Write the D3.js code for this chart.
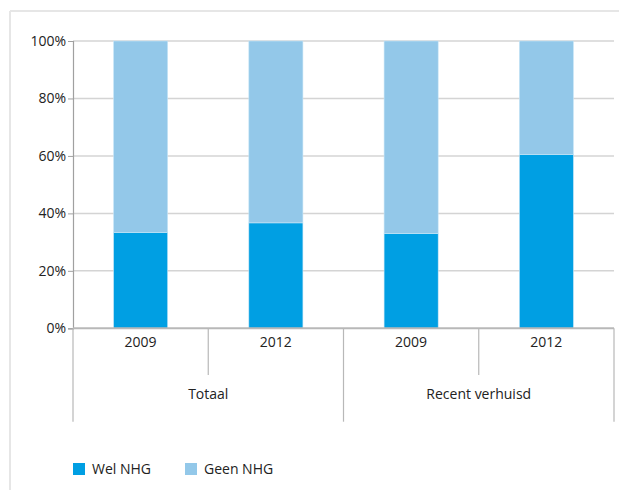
<!DOCTYPE html>
<html>
<head>
<meta charset="utf-8">
<script src="https://cdn.jsdelivr.net/npm/d3@7"></script>
<style>
  html, body { margin: 0; padding: 0; background: #fff; }
  svg { display: block; font-family: "Open Sans", "Noto Sans", sans-serif; }
</style>
</head>
<body>
<svg id="chart" width="619" height="490"></svg>
<script>
// ---- data ----
const groups = ["Totaal", "Recent verhuisd"];
const years = ["2009", "2012"];
const seriesNames = ["Wel NHG", "Geen NHG"];
const welNHG = [33.4, 36.7, 33.0, 60.5];
const geenNHG = [66.6, 63.3, 67.0, 39.5];
const yTicks = [0, 20, 40, 60, 80, 100];
const colors = ["#009fe3", "#93c8e9"];

// ---- build rows ----
const rows = [];
groups.forEach((g, gi) => years.forEach((yr, yi) => {
  const i = gi * years.length + yi;
  rows.push({ key: g + "|" + yr, group: g, year: yr, wel: welNHG[i], geen: geenNHG[i] });
}));

const svg = d3.select("#chart");
const mLeft = 73, mRight = 614, mTop = 41, mBottom = 328.3;

// frame
svg.append("line").attr("x1", 10).attr("x2", 619).attr("y1", 11).attr("y2", 11)
  .attr("stroke", "#e6e6e6").attr("stroke-width", 2);
svg.append("line").attr("x1", 10).attr("x2", 10).attr("y1", 11).attr("y2", 490)
  .attr("stroke", "#e6e6e6").attr("stroke-width", 2);

const x = d3.scaleBand().domain(rows.map(d => d.key)).range([mLeft, mRight]).padding(0);
const xg = d3.scaleBand().domain(groups).range([mLeft, mRight]).padding(0);
const y = d3.scaleLinear().domain([0, 100]).range([mBottom, mTop]);
const barW = x.bandwidth() * 0.4;

// gridlines
svg.append("g").selectAll("line").data(yTicks.filter(t => t > 0)).join("line")
  .attr("x1", mLeft).attr("x2", mRight)
  .attr("y1", d => y(d)).attr("y2", d => y(d))
  .attr("stroke", "#d4d4d4").attr("stroke-width", 1.5);

// y axis
const yAxis = svg.append("g").attr("transform", `translate(${mLeft},0)`)
  .call(d3.axisLeft(y).tickValues(yTicks).tickFormat(d => d + "%").tickSize(5).tickPadding(2));
yAxis.select(".domain").attr("stroke", "#a0a0a0").attr("stroke-width", 1.2);
yAxis.selectAll(".tick line").attr("stroke", "#a0a0a0");
yAxis.selectAll(".tick text").attr("fill", "#222").style("font-size", "14px")
  .style("font-family", "'Open Sans', sans-serif");

// bars
const stack = d3.stack().keys(["wel", "geen"]);
const stacked = stack(rows);
svg.append("g").selectAll("g").data(stacked).join("g")
  .attr("fill", (d, i) => colors[i])
  .selectAll("rect").data(d => d).join("rect")
  .attr("x", d => x(d.data.key) + (x.bandwidth() - barW) / 2)
  .attr("width", barW)
  .attr("y", d => y(d[1]))
  .attr("height", d => y(d[0]) - y(d[1]))
  .attr("stroke", "#c9e6f7").attr("stroke-width", 0.6);

// x baseline
svg.append("line").attr("x1", mLeft).attr("x2", mRight).attr("y1", mBottom).attr("y2", mBottom)
  .attr("stroke", "#b8b8b8").attr("stroke-width", 2);

// x separators: short between years, long between groups
const sepColor = "#b8b8b8";
rows.forEach((d, i) => {
  const xr = x(d.key) + x.bandwidth();
  const isGroupEnd = (i % years.length) === years.length - 1;
  if (!isGroupEnd) {
    svg.append("line").attr("x1", xr).attr("x2", xr).attr("y1", mBottom).attr("y2", 375)
      .attr("stroke", sepColor).attr("stroke-width", 1.2);
  }
});
[mLeft].concat(groups.map(g => xg(g) + xg.bandwidth())).forEach(xv => {
  svg.append("line").attr("x1", xv).attr("x2", xv).attr("y1", mBottom).attr("y2", 421.7)
    .attr("stroke", sepColor).attr("stroke-width", 1.2);
});

// year labels
svg.append("g").selectAll("text").data(rows).join("text")
  .attr("x", d => x(d.key) + x.bandwidth() / 2)
  .attr("y", 347)
  .attr("text-anchor", "middle")
  .attr("fill", "#222").style("font-size", "14px")
  .text(d => d.year);

// group labels
svg.append("g").selectAll("text").data(groups).join("text")
  .attr("x", d => xg(d) + xg.bandwidth() / 2)
  .attr("y", 399)
  .attr("text-anchor", "middle")
  .attr("fill", "#222").style("font-size", "14px")
  .text(d => d);

// legend
const legendX = [73, 185];
const lg = svg.append("g").selectAll("g").data(seriesNames).join("g")
  .attr("transform", (d, i) => `translate(${legendX[i]},463)`);
lg.append("rect").attr("width", 12).attr("height", 12).attr("fill", (d, i) => colors[i]);
lg.append("text").attr("x", 19).attr("y", 11)
  .attr("fill", "#222").style("font-size", "14px").text(d => d);
</script>
</body>
</html>
